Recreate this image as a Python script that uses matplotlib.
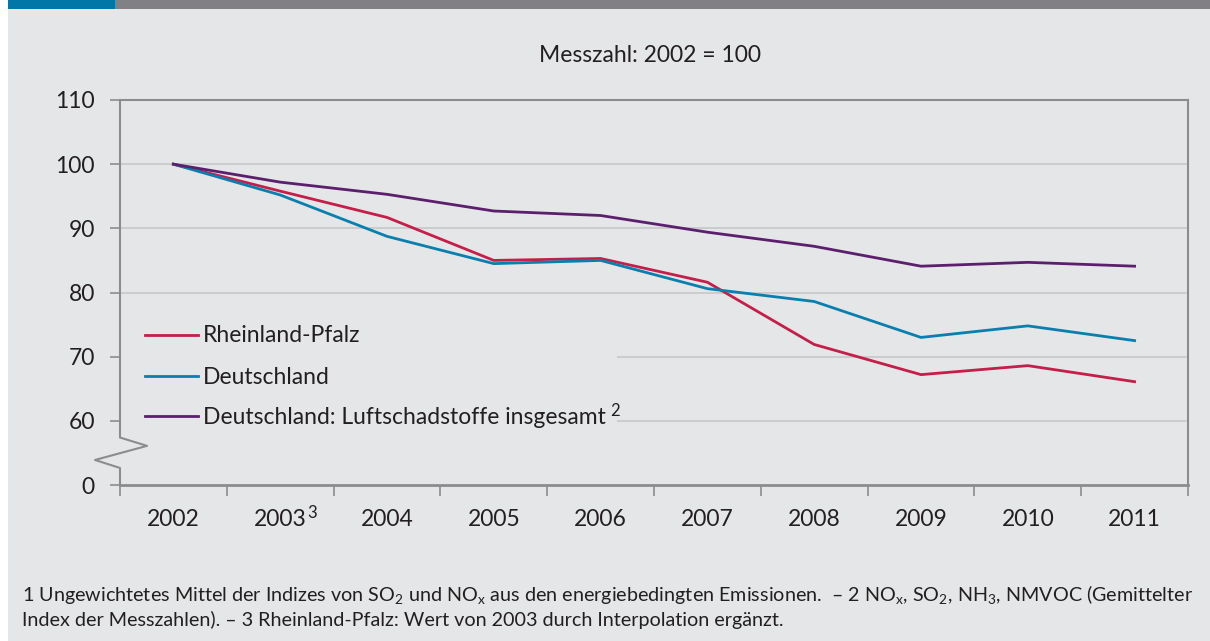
import matplotlib
matplotlib.use("Agg")
import matplotlib.pyplot as plt
from matplotlib.patches import Rectangle
from matplotlib.lines import Line2D
import matplotlib.transforms as mtransforms

FONT = "Lato"
plt.rcParams['font.family'] = [FONT, 'DejaVu Sans']
plt.rcParams['mathtext.fontset'] = 'custom'
plt.rcParams['mathtext.rm'] = FONT
plt.rcParams['mathtext.it'] = FONT + ':italic'
plt.rcParams['mathtext.bf'] = FONT + ':bold'

years = ["2002", "2003", "2004", "2005", "2006", "2007", "2008", "2009", "2010", "2011"]
year_notes = {1: "3"}
rheinland_pfalz = [100, 95.8, 91.7, 85.0, 85.3, 81.6, 71.9, 67.2, 68.6, 66.1]
deutschland = [100, 95.2, 88.75, 84.5, 85.0, 80.6, 78.6, 73.0, 74.8, 72.5]
luftschadstoffe = [100, 97.2, 95.3, 92.7, 92.0, 89.4, 87.2, 84.1, 84.7, 84.1]
series_names = ["Rheinland-Pfalz", "Deutschland", "Deutschland: Luftschadstoffe insgesamt"]
ytick_values = [60, 70, 80, 90, 100, 110]
ytick_labels = ["60", "70", "80", "90", "100", "110"]

BG = "#e5e6e8"
TXT = "#231f20"
SPINE = "#8c8c8e"
GRID = "#c6c7c9"
COLORS = ["#c41e4a", "#0a7fae", "#5b1f6d"]
FS = 16.5

W, H = 1210, 641
AX_L, AX_R, AX_T, AX_B = 120, 1188, 100, 485
fig = plt.figure(figsize=(W / 100, H / 100), dpi=100, facecolor="white")
fig.patches.append(Rectangle((8 / W, 0), 1 - 8 / W, 1, transform=fig.transFigure,
                             facecolor=BG, edgecolor="none", zorder=-10))
fig.patches.append(Rectangle((8 / W, 1 - 9 / H), (115 - 8) / W, 9 / H, transform=fig.transFigure,
                             facecolor="#0077a6", edgecolor="none", zorder=-9))
fig.patches.append(Rectangle((115 / W, 1 - 9 / H), 1 - 115 / W, 9 / H, transform=fig.transFigure,
                             facecolor="#808085", edgecolor="none", zorder=-9))

ax = fig.add_axes([AX_L / W, 1 - AX_B / H, (AX_R - AX_L) / W, (AX_B - AX_T) / H])
ax.set_facecolor(BG)
x = list(range(len(years)))
lines = []
for vals, name, c in zip([rheinland_pfalz, deutschland, luftschadstoffe], series_names, COLORS):
    ln, = ax.plot(x, vals, color=c, lw=2.0, label=name, solid_joinstyle="miter", zorder=3)
    lines.append(ln)

YBASE = 50
ax.set_xlim(-0.5, len(years) - 0.5)
ax.set_ylim(YBASE, 110)

ax.set_yticks([YBASE] + ytick_values)
ax.set_yticklabels(["0"] + ytick_labels)
ax.set_xticks(x)
ax.set_xticklabels(years)
ax.set_xticks([i - 0.5 for i in range(len(years) + 1)], minor=True)
ax.tick_params(axis="x", which="major", length=0, pad=17, labelsize=FS, colors=TXT)
ax.tick_params(axis="x", which="minor", length=8, width=1.2, color=SPINE, direction="out")
ax.tick_params(axis="y", length=7, width=1.2, color=SPINE, pad=11, labelsize=FS, labelcolor=TXT)

for v in ytick_values[:-1]:
    ax.axhline(v, color=GRID, lw=1.2, zorder=1)

for s in ["top", "right"]:
    ax.spines[s].set_color(SPINE)
    ax.spines[s].set_linewidth(1.5)
ax.spines["bottom"].set_color(SPINE)
ax.spines["bottom"].set_linewidth(2.0)
ax.spines["left"].set_visible(False)

# broken left axis with zigzag
trans = mtransforms.blended_transform_factory(ax.transAxes, ax.transData)
zx = [0, 0, 27 / 1068, -25 / 1068, 0, 0]
zy = [110, 57.4, 56.1, 53.9, 52.65, YBASE]
ax.add_line(Line2D(zx, zy, transform=trans, color=SPINE, lw=1.5, clip_on=False, zorder=4))

# legend (manual layout so rows are evenly spaced)
def axx(px):
    return (px - AX_L) / (AX_R - AX_L)

def axy(py):
    return (AX_B - py) / (AX_B - AX_T)

ax.add_patch(Rectangle((axx(AX_L + 1), axy(434)), axx(617) - axx(AX_L + 1), axy(306) - axy(434),
                       transform=ax.transAxes, facecolor=BG, edgecolor="none", zorder=2))
row_y = [335, 376, 416]
leg_texts = []
for ln, py in zip(lines, row_y):
    ax.add_line(Line2D([axx(145), axx(198)], [axy(py), axy(py)], transform=ax.transAxes,
                       color=ln.get_color(), lw=2.0, zorder=3))
    t = ax.text(axx(203), axy(py + 1), ln.get_label(), transform=ax.transAxes, ha="left",
                va="center", fontsize=FS, color=TXT, zorder=3)
    leg_texts.append(t)

fig.text(650 / W, 1 - 55 / H, "Messzahl: 2002 = 100", ha="center", va="center",
         fontsize=FS, color=TXT)

fig.text(22 / W, 1 - 594 / H,
         "1 Ungewichtetes Mittel der Indizes von SO$_2$ und NO$_\\mathrm{x}$ aus den energiebedingten Emissionen.  "
         "\u2013 2 NO$_\\mathrm{x}$, SO$_2$, NH$_3$, NMVOC (Gemittelter",
         ha="left", va="center", fontsize=14.2, color=TXT)
fig.text(22 / W, 1 - 620 / H,
         "Index der Messzahlen). \u2013 3 Rheinland-Pfalz: Wert von 2003 durch Interpolation ergänzt.",
         ha="left", va="center", fontsize=14.2, color=TXT)

# superscript footnote markers
fig.canvas.draw()
bb = leg_texts[2].get_window_extent()
fig.text((bb.x1 + 4) / W, (bb.y1 + 3) / H, "2", ha="left", va="top", fontsize=12, color=TXT)
xt_labels = ax.get_xticklabels()
for idx, note in year_notes.items():
    bb = xt_labels[idx].get_window_extent()
    fig.text((bb.x1 + 1) / W, (bb.y1 + 4) / H, note, ha="left", va="top", fontsize=12, color=TXT)

fig.savefig("out.png", dpi=100, facecolor=fig.get_facecolor())
